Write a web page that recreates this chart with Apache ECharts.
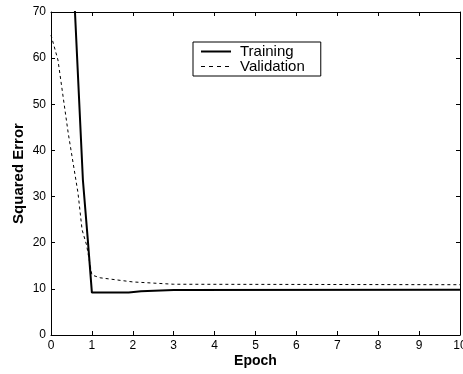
<!DOCTYPE html>
<html>
<head>
<meta charset="utf-8">
<script src="https://cdn.jsdelivr.net/npm/echarts@6/dist/echarts.min.js"></script>
<style>
  html, body { margin: 0; padding: 0; background: #fff; }
  #chart { width: 463px; height: 374px; }
</style>
</head>
<body>
<div id="chart"></div>
<script>
// data
const training = [[0, 180], [0.78, 33.6], [0.9, 20.6], [1, 9.2], [1.9, 9.2], [2.2, 9.5], [3, 9.75], [10, 9.8]]
const validation = [[0, 65], [0.17, 59.6], [0.42, 43.8], [0.66, 30.8], [0.76, 22.8], [0.87, 19.5], [1, 13], [1.2, 12.4], [2, 11.5], [3, 11], [10, 10.9]]
const xTicks = { min: 0, max: 10, interval: 1 }
const yTicks = { min: 0, max: 70, interval: 10 }

const chart = echarts.init(document.getElementById('chart'))
const font = 'Liberation Sans, Arial, sans-serif'

const baseAxis = {
  axisLine: { show: true, onZero: false, lineStyle: { color: '#000', width: 1 } },
  axisTick: { show: true, inside: true, length: 4, lineStyle: { color: '#000' } },
  splitLine: { show: false },
}

chart.setOption({
  animation: false,
  backgroundColor: '#fff',
  grid: { left: 51, right: 3, top: 12, bottom: 39, outerBoundsMode: 'none', containLabel: false },
  legend: {
    left: 193,
    top: 42,
    orient: 'vertical',
    itemWidth: 30,
    itemHeight: 14,
    itemGap: 0,
    padding: [2, 16, 2, 7],
    borderColor: '#000',
    borderWidth: 1,
    backgroundColor: '#fff',
    textStyle: { fontFamily: font, fontSize: 15, lineHeight: 15, color: '#000', padding: [0, 0, 0, 4] },
    data: [
      { name: 'Training', itemStyle: { opacity: 0 }, lineStyle: { width: 2 } },
      { name: 'Validation', itemStyle: { opacity: 0 }, lineStyle: { width: 1, type: [4, 4] } },
    ],
  },
  xAxis: [
    {
      ...baseAxis,
      type: 'value',
      ...xTicks,
      name: 'Epoch',
      nameLocation: 'middle',
      nameGap: 19,
      nameMoveOverlap: false,
      nameTextStyle: { fontFamily: font, fontSize: 14, fontWeight: 'bold', color: '#000' },
      axisLabel: { fontFamily: font, fontSize: 12, color: '#000', margin: 5 },
    },
    {
      ...baseAxis,
      type: 'value',
      ...xTicks,
      position: 'top',
      axisLabel: { show: false },
    },
  ],
  yAxis: [
    {
      ...baseAxis,
      type: 'value',
      ...yTicks,
      name: 'Squared Error',
      nameLocation: 'middle',
      nameGap: 25,
      nameMoveOverlap: false,
      nameTextStyle: { fontFamily: font, fontSize: 15, fontWeight: 'bold', color: '#000' },
      axisLabel: { fontFamily: font, fontSize: 12, color: '#000', margin: 5 },
    },
    {
      ...baseAxis,
      type: 'value',
      ...yTicks,
      position: 'right',
      axisLabel: { show: false },
    },
  ],
  series: [
    {
      name: 'Training',
      type: 'line',
      data: training,
      symbol: 'none',
      clip: true,
      lineStyle: { color: '#000', width: 2 },
      itemStyle: { color: '#000' },
    },
    {
      name: 'Validation',
      type: 'line',
      data: validation,
      symbol: 'none',
      clip: true,
      lineStyle: { color: '#000', width: 1, type: [3, 3] },
      itemStyle: { color: '#000' },
    },
  ],
})
</script>
</body>
</html>
